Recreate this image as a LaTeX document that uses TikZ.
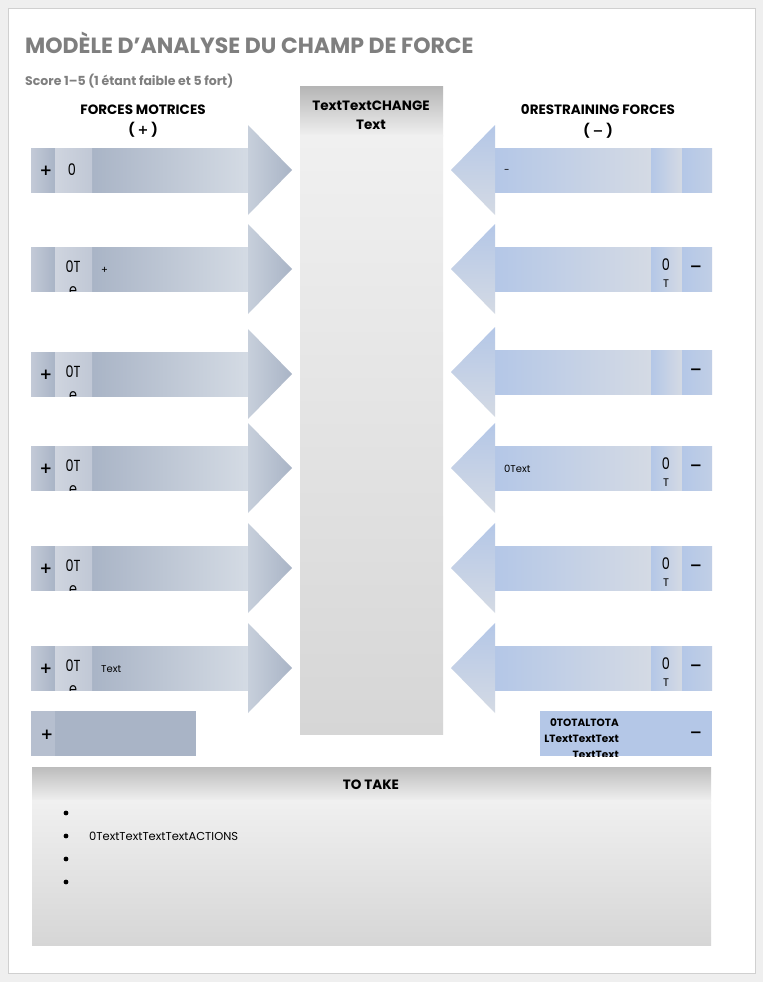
\documentclass[tikz,border=0pt]{standalone}
\usepackage{fontspec}
\setmainfont{Poppins}
\newfontfamily\narrowfont{Poppins}[FakeStretch=0.8]
\newfontfamily\signfont{DejaVu Sans Bold}
\usepackage{tikz}
\usetikzlibrary{positioning}

\definecolor{pagebg}{HTML}{EFEFEF}
\definecolor{pageedge}{HTML}{D0D0D0}
\definecolor{titlegray}{HTML}{7F7F7F}
\definecolor{lfdark}{HTML}{A9B4C6}
\definecolor{lflight}{HTML}{D4DBE4}
\definecolor{lfcell}{HTML}{C3CAD7}
\definecolor{rtdark}{HTML}{B4C7E7}
\definecolor{rtlight}{HTML}{D4DAE4}
\definecolor{colgray}{HTML}{B5B5B5}
\definecolor{collight}{HTML}{F0F0F0}
\definecolor{coldark}{HTML}{D6D6D6}

\begin{document}
\begin{tikzpicture}[
  x=1pt,y=-1pt,
  every node/.style={inner sep=0pt,font=\small},
  head/.style={font=\bfseries\fontsize{13.5}{15}\selectfont},
  score/.style={font=\narrowfont\fontsize{16}{17}\selectfont},
  sign/.style={font=\signfont\fontsize{15}{16}\selectfont},
  tiny/.style={font=\fontsize{10}{11}\selectfont}
]
  \useasboundingbox (0,0) rectangle (763,982);
  \fill[pagebg] (0,0) rectangle (763,982);
  \draw[pageedge,fill=white] (8,8) rectangle (755,973);

  % title
  \node[anchor=base west,titlegray,font=\bfseries\fontsize{22}{24}\selectfont] (title) at (25,54) {MODÈLE D'ANALYSE DU CHAMP DE FORCE};
  \node[anchor=base west,titlegray,font=\bfseries\fontsize{12.5}{14}\selectfont] (sub) at (25,85) {Score 1–5 (1 étant faible et 5 fort)};

  % headers
  \node[head] (lhead) at (143,110) {FORCES MOTRICES};
  \node[head] (lsign) at (143,130) {( {\signfont\fontsize{13}{15}\selectfont +} )};
  \node[head] (rhead) at (598,110) {0RESTRAINING FORCES};
  \node[head] (rsign) at (598,131) {( {\signfont\fontsize{13}{15}\selectfont −} )};

  % change column
  \shade[top color=colgray,bottom color=collight] (300,86) rectangle (443,136);
  \shade[top color=collight,bottom color=coldark] (300,135.5) rectangle (443,734);
  \node[head,anchor=base] (change1) at (371,110) {TextTextCHANGE};
  \node[head,anchor=base] (change2) at (371,129) {Text};

  % driving forces
  \foreach \yc in {170,269,374,468,568,668}{
    \shade[left color=lfdark,right color=lflight] (92,\yc-22) rectangle (248,\yc+22);
    \shade[left color=lflight!70!lfdark,right color=lfdark] (248,\yc-45) -- (292,\yc) -- (248,\yc+45) -- cycle;
    \shade[left color=lfcell,right color=lfdark] (31,\yc-22) rectangle (55,\yc+22);
    \shade[left color=lfcell!80!white,right color=lfcell!90!lfdark] (55,\yc-22) rectangle (92,\yc+22);
  }
  \node[sign] (lp1) at (46,171) {+};
  \node[score] (ls1) at (72,170) {0};
  \foreach \yc/\n in {269/2,374/3,468/4,568/5,668/6}{
    \node[score,anchor=base] (ls\n) at (73,\yc+3) {0T};
    \begin{scope}
      \clip (55,\yc-22) rectangle (92,\yc+22);
      \node[score,anchor=base] (le\n) at (73,\yc+26.5) {e};
    \end{scope}
  }
  \foreach \yc/\n in {374/3,468/4,568/5,668/6}
    \node[sign] (lp\n) at (46,\yc+1) {+};
  \node[tiny,anchor=west] (lt2) at (101,270) {+};
  \node[tiny,anchor=west] (lt6) at (101,669) {Text};

  % driving total
  \fill[lfdark] (31,711) rectangle (196,756);
  \fill[lfdark!85!white] (31,711) rectangle (55,756);
  \node[sign] (lptot) at (47,735) {+};

  % restraining forces
  \foreach \yc in {170,269,372,468,568,668}{
    \shade[left color=rtdark,right color=rtlight] (495,\yc-22) rectangle (651,\yc+22);
    \shade[top color=rtdark,bottom color=rtlight] (495,\yc-45) -- (451,\yc) -- (495,\yc+45) -- cycle;
    \shade[left color=rtdark,right color=rtlight] (651,\yc-22) rectangle (682,\yc+22);
    \shade[left color=rtdark,right color=rtdark!60!rtlight] (682,\yc-22) rectangle (712,\yc+22);
  }
  \node[tiny,anchor=west] (rt1) at (504,171) {-};
  \node[tiny,anchor=west] (rt4) at (504,469) {0Text};
  \foreach \yc/\n in {269/2,468/4,568/5,668/6}{
    \node[score,anchor=base] (rs\n) at (666,\yc+1) {0};
    \node[font=\fontsize{11}{12}\selectfont,anchor=base] (rT\n) at (666,\yc+18) {T};
  }
  \foreach \yc/\n in {269/2,372/3,468/4,568/5,668/6}
    \node[sign] (rm\n) at (696,\yc) {−};

  % restraining total
  \fill[rtdark] (540,711) rectangle (712,756);
  \begin{scope}[every node/.style={inner sep=0pt,anchor=base east,font=\bfseries\fontsize{10.5}{12}\selectfont}]
    \clip (540,711) rectangle (712,756);
    \node (rtot1) at (619,726) {0TOTALTOTA};
    \node (rtot2) at (619,742) {LTextTextText};
    \node (rtot3) at (619,758) {TextText};
  \end{scope}
  \node[sign] (rmtot) at (696,735) {−};

  % actions
  \shade[top color=colgray!90!white,bottom color=collight] (32,767) rectangle (711,801);
  \shade[top color=collight,bottom color=coldark] (32,800.5) rectangle (711,945);
  \node[head] (take) at (371,785) {TO TAKE};
  \foreach \by in {813,859,882}
    \fill (66,\by) circle (2.4);
  \fill (66,836) circle (2.4);
  \node[anchor=west,font=\fontsize{11.5}{13}\selectfont] (act) at (89,836) {0TextTextTextTextACTIONS};
\end{tikzpicture}
\end{document}
